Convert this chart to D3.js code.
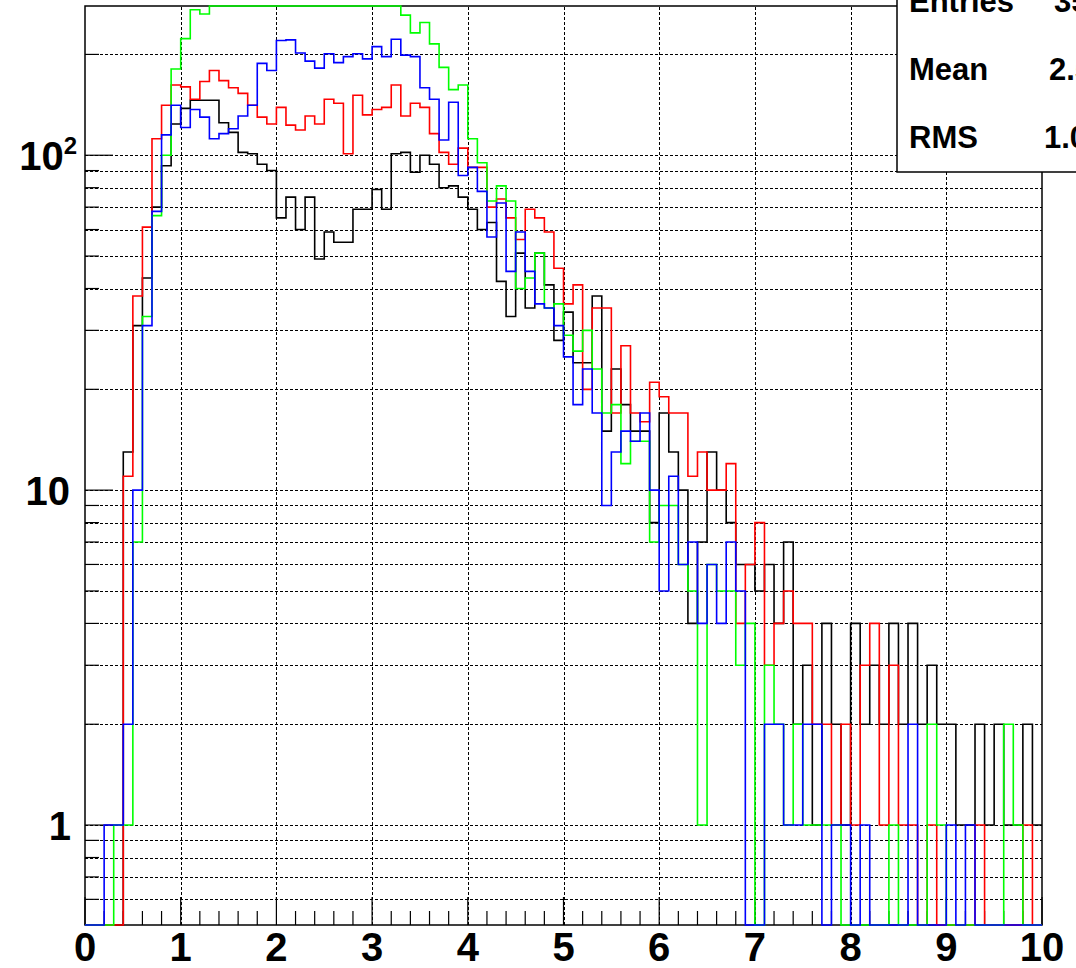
<!DOCTYPE html>
<html>
<head>
<meta charset="utf-8">
<script src="https://cdn.jsdelivr.net/npm/d3@7/dist/d3.min.js"></script>
<style>
  body { margin: 0; background: #fff; }
  svg { display: block; font-family: "Liberation Sans", Arial, sans-serif; font-weight: bold; }
</style>
</head>
<body>
<div class="hist-chart"></div>
<script>

////////// DATA //////////

// 100 bins of width 0.1 from 0 to 10, entries per bin
var binStart = 0, binWidth = 0.1;

var blackCounts = [
  0, 0, 0, 0, 13, 31, 43, 70, 93, 124,
  138, 146, 146, 146, 125, 117, 102, 101, 94, 90,
  65, 75, 60, 75, 49, 59, 55, 55, 69, 69,
  79, 69, 101, 102, 89, 100, 94, 80, 81, 75,
  69, 60, 63, 42, 33, 51, 35, 51, 41, 28,
  34, 24, 24, 38, 15, 23, 18, 15, 15, 8,
  17, 13, 10, 4, 7, 13, 10, 8, 6, 6,
  5, 6, 4, 7, 2, 3, 1, 4, 2, 1,
  4, 2, 3, 2, 4, 2, 4, 2, 3, 2,
  2, 1, 1, 2, 1, 2, 1, 1, 2, 1
];

var redCounts = [
  0, 0, 0, 0, 11, 38, 61, 112, 141, 162,
  160, 147, 166, 179, 167, 159, 153, 141, 130, 124,
  139, 123, 119, 131, 124, 147, 143, 101, 151, 132,
  137, 139, 162, 131, 143, 139, 116, 102, 94, 105,
  92, 92, 70, 74, 65, 56, 69, 65, 59, 46,
  36, 41, 20, 35, 35, 17, 27, 17, 16, 21,
  19, 17, 17, 11, 13, 10, 10, 12, 4, 6,
  8, 3, 4, 5, 4, 4, 2, 2, 1, 2,
  1, 3, 4, 1, 3, 1, 1, 0, 1, 0,
  0, 0, 0, 1, 0, 0, 0, 0, 1, 0
];

// bins 13-32 run off the top of the frame
var greenCounts = [
  0, 0, 0, 1, 1, 7, 33, 66, 100, 181,
  223, 272, 264, 300, 310, 320, 330, 320, 330, 340,
  330, 335, 340, 330, 325, 330, 320, 330, 325, 320,
  315, 310, 300, 262, 232, 249, 215, 183, 157, 162,
  112, 95, 73, 81, 73, 40, 43, 51, 35, 36,
  29, 26, 30, 23, 17, 18, 12, 14, 14, 7,
  9, 9, 6, 5, 1, 6, 5, 5, 3, 4,
  0, 3, 2, 1, 2, 1, 1, 1, 1, 0,
  0, 0, 0, 0, 1, 0, 0, 0, 2, 1,
  0, 0, 0, 0, 0, 0, 2, 1, 0, 0
];

var blueCounts = [
  0, 0, 1, 1, 2, 10, 31, 68, 115, 141,
  121, 137, 130, 112, 116, 120, 131, 141, 188, 179,
  220, 221, 202, 191, 182, 201, 189, 197, 201, 194,
  211, 197, 222, 199, 197, 159, 147, 111, 144, 87,
  92, 78, 57, 72, 45, 59, 45, 36, 35, 31,
  25, 18, 23, 17, 9, 13, 15, 14, 17, 10,
  5, 11, 6, 7, 4, 6, 4, 7, 5, 0,
  0, 2, 2, 1, 1, 2, 2, 0, 1, 1,
  0, 1, 0, 0, 0, 0, 2, 0, 0, 0,
  1, 0, 1, 0, 0, 0, 0, 0, 0, 0
];

var seriesColours = ["#000000", "#ff0000", "#00ff00", "#0000ff"];

var xTickLabels = [0, 1, 2, 3, 4, 5, 6, 7, 8, 9, 10];
var yMajorTicks = [1, 10, 100];
var yMinorTicks = [0.6, 0.7, 0.8, 0.9, 2, 3, 4, 5, 6, 7, 8, 9, 20, 30, 40, 50, 60, 70, 80, 90, 200];

var statLabels = ["Entries", "Mean", "RMS"];
var statValues = ["3518", "2.573", "1.069"];


////////// SETUP //////////

var width = 1076, height = 968;
var margin = { top: 6, right: 34, bottom: 43, left: 85 };
var yMin = 0.503, yMax = 279;

var x = d3.scaleLinear()
    .domain([0, 10])
    .range([margin.left, width - margin.right]);

var y = d3.scaleLog()
    .domain([yMin, yMax])
    .range([height - margin.bottom, margin.top])
    .clamp(true);

var svg = d3.select(".hist-chart")
  .append("svg")
    .attr("width", width)
    .attr("height", height);

svg.append("rect")
    .attr("width", width)
    .attr("height", height)
    .attr("fill", "#fff");


////////// GRID //////////

var grid = svg.append("g")
    .attr("class", "grid")
    .attr("stroke", "#000")
    .attr("stroke-width", 1)
    .attr("stroke-dasharray", "3,2");

grid.selectAll(".hgrid")
    .data(yMajorTicks.concat(yMinorTicks))
    .enter()
    .append("line")
    .attr("x1", x(0))
    .attr("x2", x(10))
    .attr("y1", function(d) { return Math.round(y(d)) + 0.5; })
    .attr("y2", function(d) { return Math.round(y(d)) + 0.5; });

grid.selectAll(".vgrid")
    .data(xTickLabels.slice(1, -1))
    .enter()
    .append("line")
    .attr("x1", function(d) { return Math.round(x(d)) + 0.5; })
    .attr("x2", function(d) { return Math.round(x(d)) + 0.5; })
    .attr("y1", y(yMin))
    .attr("y2", y(yMax));


////////// FRAME AND TICKS //////////

svg.append("rect")
    .attr("x", x(0))
    .attr("y", y(yMax))
    .attr("width", x(10) - x(0))
    .attr("height", y(yMin) - y(yMax))
    .attr("fill", "none")
    .attr("stroke", "#000")
    .attr("stroke-width", 1.5);

var ticks = svg.append("g")
    .attr("class", "ticks")
    .attr("stroke", "#000")
    .attr("stroke-width", 1.2);

// x ticks every 0.2, longer on whole numbers
ticks.selectAll(".xtick")
    .data(d3.range(0, 51))
    .enter()
    .append("line")
    .attr("x1", function(d) { return x(d / 5); })
    .attr("x2", function(d) { return x(d / 5); })
    .attr("y1", y(yMin))
    .attr("y2", function(d) { return y(yMin) - (d % 5 == 0 ? 28 : 14); });

ticks.selectAll(".ytick")
    .data(yMajorTicks.concat(yMinorTicks))
    .enter()
    .append("line")
    .attr("x1", x(0))
    .attr("x2", function(d) { return x(0) + (yMajorTicks.indexOf(d) >= 0 ? 28 : 14); })
    .attr("y1", function(d) { return y(d); })
    .attr("y2", function(d) { return y(d); });


////////// HISTOGRAMS //////////

var stepLine = d3.line()
    .x(function(d) { return x(d[0]); })
    .y(function(d) { return y(Math.max(d[1], yMin)); })
    .curve(d3.curveStepAfter);

function histPoints(counts) {
  var pts = counts.map(function(c, i) { return [binStart + i * binWidth, c]; });
  pts.push([binStart + counts.length * binWidth, counts[counts.length - 1]]);
  return pts;
}

var allSeries = [blackCounts, redCounts, greenCounts, blueCounts];

svg.append("g")
    .attr("class", "hists")
  .selectAll("path")
    .data(allSeries)
    .enter()
    .append("path")
    .attr("d", function(d) { return stepLine(histPoints(d)); })
    .attr("fill", "none")
    .attr("stroke", function(d, i) { return seriesColours[i]; })
    .attr("stroke-width", 1.6);


////////// LABELS //////////

svg.append("g")
    .attr("class", "xlabels")
  .selectAll("text")
    .data(xTickLabels)
    .enter()
    .append("text")
    .attr("x", function(d) { return x(d); })
    .attr("y", y(yMin) + 36)
    .attr("text-anchor", "middle")
    .attr("font-size", 40)
    .text(function(d) { return d; });

var ylabels = svg.append("g")
    .attr("class", "ylabels")
    .attr("font-size", 40)
    .attr("text-anchor", "end");

ylabels.append("text")
    .attr("x", 71)
    .attr("y", y(1) + 15)
    .text("1");

ylabels.append("text")
    .attr("x", 70)
    .attr("y", y(10) + 15)
    .text("10");

var hundred = ylabels.append("text")
    .attr("x", 77)
    .attr("y", y(100) + 15);
hundred.append("tspan").text("10");
hundred.append("tspan")
    .attr("font-size", 24)
    .attr("dy", -16)
    .text("2");


////////// STATS BOX //////////

var stats = svg.append("g")
    .attr("class", "stats");

stats.append("rect")
    .attr("x", 897)
    .attr("y", -10)
    .attr("width", 240)
    .attr("height", 182)
    .attr("fill", "#fff")
    .attr("stroke", "#000")
    .attr("stroke-width", 1.5);

stats.selectAll(".stat-label")
    .data(statLabels)
    .enter()
    .append("text")
    .attr("x", 909)
    .attr("y", function(d, i) { return 12 + i * 68; })
    .attr("font-size", 31)
    .text(function(d) { return d; });

// values start where the picture shows them and run past the right edge
var valueStarts = [1054, 1049, 1044];

stats.selectAll(".stat-value")
    .data(statValues)
    .enter()
    .append("text")
    .attr("x", function(d, i) { return valueStarts[i]; })
    .attr("y", function(d, i) { return 12 + i * 68; })
    .attr("font-size", 31)
    .text(function(d) { return d; });

</script>
</body>
</html>
